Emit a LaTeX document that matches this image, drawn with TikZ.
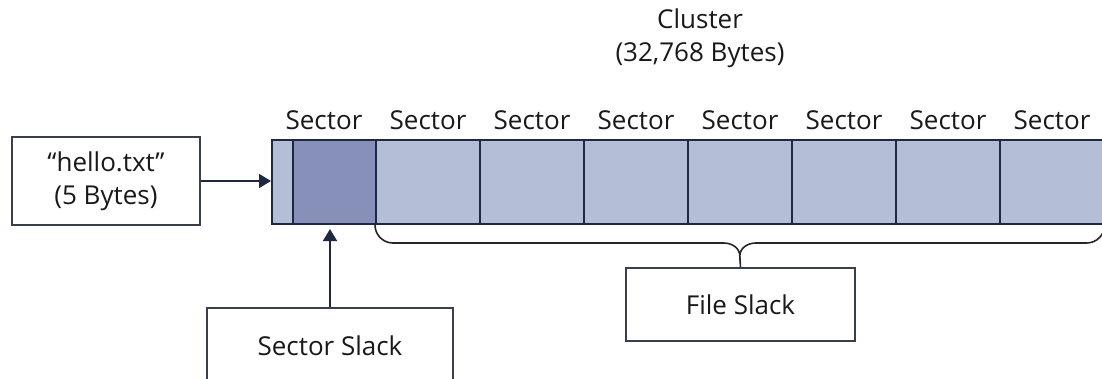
\documentclass[tikz,border=0pt]{standalone}
\usepackage{fontspec}
\setmainfont{Open Sans}
\usetikzlibrary{positioning,arrows.meta,calc}

\definecolor{sectorfill}{HTML}{B4BED6}
\definecolor{slackfill}{HTML}{8790B9}
\definecolor{edgecol}{HTML}{1E2840}
\definecolor{boxcol}{HTML}{3A3F4C}

\begin{document}
\begin{tikzpicture}[x=1pt,y=1pt,
   every node/.style={font=\fontsize{26}{33}\selectfont,align=center,text=black!90},
   box/.style={draw=boxcol,line width=1.6pt,inner sep=0pt},
   cell/.style={draw=edgecol,fill=sectorfill,line width=1.6pt,minimum width=104pt,
     minimum height=84pt,inner sep=0pt,anchor=south west},
   arrow/.style={draw=edgecol,line width=1.6pt,-{Triangle[length=12pt,width=14pt]}},
   bracel/.style={draw=black!85,line width=1.6pt}]
  \useasboundingbox (0,0) rectangle (1102,378);
  \clip (0,0) rectangle (1102,378);
  % cluster of eight sectors
  \foreach \i in {0,...,7} {
    \node[cell] (s\i) at ({271+104*\i},153) {};
    \node[anchor=base] (l\i) at ({324+104*\i},248) {Sector};
  }
  \node[cell,fill=slackfill,minimum width=83pt] (slack) at (292,153) {};
  \node (cluster) at (700,340) {Cluster\\(32,768 Bytes)};
  % file and slack labels
  \node[box,minimum width=188pt,minimum height=88pt] (file) at (106,197) {“hello.txt”\\(5 Bytes)};
  \node[box,minimum width=246pt,minimum height=76pt,anchor=north] (sslack) at (330,71) {Sector Slack};
  \node[box,minimum width=229pt,minimum height=73pt] (fslack) at (740.5,73.5) {File Slack};
  \draw[arrow] (file.east) -- (file.east -| s0.west);
  \draw[arrow] (sslack.north) -- ($(sslack.north |- s0.south)+(0,-4)$);
  % brace under the slack sectors
  \coordinate (bmid) at ($(s1.south west)!0.5!(s7.south east)$);
  \draw[bracel] (s1.south west) to[out=-90,in=180] ++(18,-18)
    -- ($(bmid)+(-16,-18)$) to[out=0,in=90] ($(bmid)+(0,-31)$)
    to[out=90,in=180] ($(bmid)+(16,-18)$)
    -- ($(s7.south east)+(-18,-18)$) to[out=0,in=-90] (s7.south east);
  \draw[bracel] ($(bmid)+(0,-31)$) -- (fslack.north);
\end{tikzpicture}
\end{document}
